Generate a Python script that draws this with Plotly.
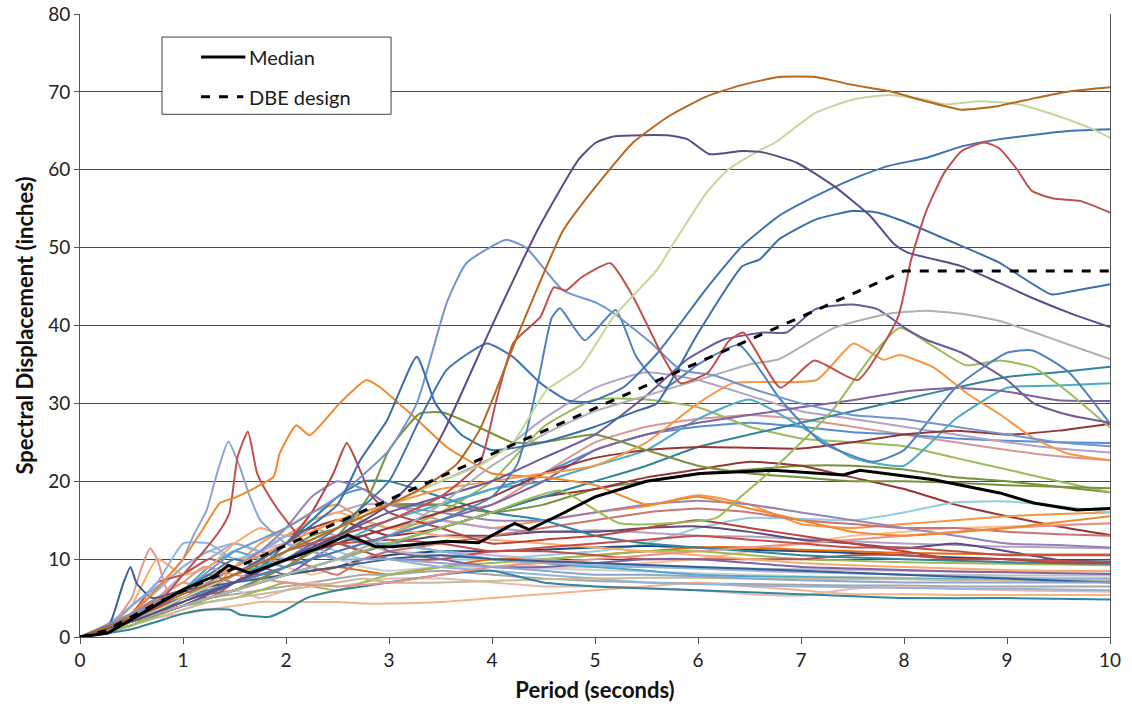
import plotly.graph_objects as go

# ---------------- data ----------------
# Prominent records (own period sampling)
T_ORANGE_BROWN = [0, 0.5, 1, 1.5, 2, 2.5, 3, 3.3, 3.65, 3.88, 4.27, 4.69, 5.01, 5.37, 5.72, 6.08, 6.43, 6.79, 7.14, 7.5, 7.85, 8.21, 8.56, 8.92, 9.27, 9.63, 10]
SD_ORANGE_BROWN = [0, 2.5, 5.5, 8, 11, 14, 17, 19, 22.1, 26.6, 39.4, 52.2, 57.9, 63.5, 66.9, 69.4, 70.9, 71.9, 71.9, 70.9, 70.1, 68.8, 67.7, 68.2, 69.2, 70.1, 70.6]

T_DARK_PURPLE = [0, 0.5, 1, 1.5, 2, 2.5, 3, 3.3, 3.54, 3.98, 4.44, 4.84, 5.01, 5.19, 5.72, 5.9, 6.11, 6.43, 6.64, 6.96, 7.32, 7.67, 7.9, 8.03, 8.56, 8.92, 9.27, 9.63, 10]
SD_DARK_PURPLE = [0, 2, 4.5, 7, 10, 13, 17, 21, 26.6, 39.4, 52.2, 61.3, 63.5, 64.3, 64.4, 63.9, 62, 62.4, 62.2, 60.9, 57.9, 54.1, 50.5, 49.4, 47.6, 45.5, 43.4, 41.5, 39.8]

T_PALE_GREEN = [0, 0.5, 1, 1.5, 2, 2.5, 3, 3.5, 3.88, 4.2, 4.53, 4.86, 5.18, 5.6, 5.76, 6.08, 6.29, 6.6, 6.75, 7.14, 7.5, 7.85, 8.21, 8.39, 8.74, 9.1, 9.45, 9.8, 10]
SD_PALE_GREEN = [0, 2, 5, 8, 11, 14, 17, 20, 22, 24.9, 31.7, 34.7, 41.1, 47.1, 50.5, 57, 60, 62.5, 63.5, 67.3, 69, 69.6, 69, 68.4, 68.8, 68.4, 67.1, 65.4, 64.1]

T_CORNFLOWER = [0, 0.5, 1, 1.3, 1.5, 2, 2.5, 3, 3.27, 3.56, 3.75, 4.14, 4.33, 4.69, 5.0, 5.18, 5.55, 5.83, 6.15, 6.5, 7, 7.5, 8, 8.5, 9, 9.5, 10]
SD_CORNFLOWER = [0, 3, 6, 9, 11, 14, 18, 24, 30, 42.9, 48, 51, 50, 44.5, 43, 41.6, 37.7, 34.3, 33.6, 32, 30, 28.5, 28, 27, 26, 25, 24.5]

T_BLUE_A = [0, 0.5, 1, 1.5, 2, 2.5, 3, 3.5, 4.0, 4.25, 4.45, 4.58, 4.66, 4.9, 5.2, 5.4, 5.67, 6, 6.4, 6.8, 7.2, 7.7, 8.0, 8.5, 9.0, 9.25, 9.6, 10]
SD_BLUE_A = [0, 2.5, 5, 7, 9, 11, 13, 15, 18, 22.3, 33, 41, 42.2, 38.1, 42, 36, 32, 35, 37.5, 30.5, 25, 22.5, 24, 32, 36.5, 36.8, 34, 27.4]

T_BLUE_65 = [0, 0.5, 1, 1.5, 2, 2.5, 3, 3.3, 3.56, 3.95, 4.2, 4.47, 4.73, 4.95, 5.28, 5.61, 6.08, 6.43, 6.79, 7.14, 7.5, 7.85, 8.21, 8.56, 8.92, 9.27, 9.63, 10]
SD_BLUE_65 = [0, 2, 4.5, 7, 10, 14, 20, 28, 34.3, 37.7, 36, 32.6, 30.4, 30.2, 32.1, 36.5, 44.7, 50.2, 54.1, 56.6, 58.8, 60.5, 61.5, 63, 63.9, 64.5, 65, 65.2]

T_STEEL_BLUE = [0, 0.5, 1, 1.5, 2, 2.5, 2.72, 2.98, 3.27, 3.45, 3.7, 4.0, 4.5, 5.0, 5.4, 5.6, 6.0, 6.43, 6.6, 6.79, 7.14, 7.5, 7.74, 8.03, 8.56, 8.92, 9.43, 9.63, 10]
SD_STEEL_BLUE = [0, 2, 5, 8, 12, 17, 22.7, 27.8, 36, 30, 26, 24, 25, 27, 29, 30, 39, 47.6, 48.5, 51.1, 53.6, 54.7, 54.5, 53.2, 50.2, 48.1, 44, 44.4, 45.3]

T_RED_MAIN = [0, 0.5, 1, 1.5, 2, 2.5, 3, 3.5, 3.88, 4.05, 4.21, 4.47, 4.6, 4.72, 4.87, 5.15, 5.37, 5.66, 5.83, 6.1, 6.3, 6.44, 6.8, 7.13, 7.55, 7.94, 8.07, 8.21, 8.39, 8.56, 8.78, 8.92, 9.1, 9.24, 9.45, 9.71, 10]
SD_RED_MAIN = [0, 2.5, 5, 8, 11, 13, 15, 18, 22.3, 30.8, 37.8, 41.1, 44.9, 44.5, 46.2, 48, 43.7, 36, 32.6, 34, 38, 39.1, 32, 35.5, 33, 41, 48.5, 54.5, 59.6, 62.4, 63.5, 62.8, 60, 57.3, 56.3, 56, 54.5]

T_GRAY_42 = [0, 0.5, 1, 1.5, 2, 2.5, 3, 3.5, 4, 4.5, 5, 5.5, 6, 6.5, 6.79, 7.32, 7.85, 8.21, 8.56, 8.92, 9.27, 9.63, 10]
SD_GRAY_42 = [0, 2, 4, 6, 8, 10, 13, 17, 22, 26, 29, 31, 33, 35, 35.7, 39.7, 41.5, 41.9, 41.5, 40.6, 39.1, 37.4, 35.7]

T_PURPLE_42 = [0, 0.5, 1, 1.5, 2, 2.5, 3, 3.5, 4, 4.5, 5, 5.5, 5.9, 6.25, 6.64, 6.86, 7.14, 7.5, 7.74, 8.03, 8.21, 8.56, 9, 9.26, 9.6, 10]
SD_PURPLE_42 = [0, 2, 4, 7, 10, 13, 16, 18, 20, 23, 26, 31, 35.7, 38.2, 39.1, 39.1, 42.1, 42.7, 42.1, 39.5, 38.2, 36.5, 33, 30, 28.5, 27.5]

T_GREEN_39 = [0, 0.5, 1, 1.5, 2, 2.5, 3, 3.5, 4, 4.66, 5.24, 6.18, 6.38, 6.79, 7.3, 7.68, 7.96, 8.3, 8.6, 8.93, 9.26, 9.58, 10]
SD_GREEN_39 = [0, 2, 4, 6, 8, 10, 12, 14, 16, 18.8, 14.6, 15.3, 17.6, 22.3, 29, 36, 39.7, 37.2, 34.9, 35.5, 34.6, 31.6, 26.9]

T_ORANGE_38 = [0, 0.5, 1, 1.5, 2, 2.5, 3, 3.5, 4, 4.5, 5, 5.5, 6.0, 6.34, 7.15, 7.51, 7.8, 7.96, 8.29, 8.61, 8.93, 9.25, 9.58, 10]
SD_ORANGE_38 = [0, 3, 6, 9, 12, 15, 17, 19, 20, 21, 22, 25, 30, 32.6, 33, 37.7, 35.6, 36.2, 34.6, 31.3, 28.6, 25.6, 23.6, 22.7]

T_ORANGE_33 = [0, 0.3, 0.5, 0.8, 1.0, 1.2, 1.36, 1.52, 1.72, 1.88, 1.94, 2.1, 2.23, 2.52, 2.78, 2.91, 3.24, 3.56, 3.82, 4.0, 4.5, 5.0, 5.5, 6.0, 6.5, 7.0, 7.5, 8.0, 9.0, 10]
SD_ORANGE_33 = [0, 1, 3, 7, 10, 14, 17.2, 18, 19.3, 20.6, 23.6, 27.2, 25.9, 30, 33, 32.1, 28.3, 24.4, 22.3, 21, 20.5, 19.5, 17, 18, 16.5, 15, 13.5, 13, 14, 15.5]

T_RED_26 = [0, 0.3, 0.5, 0.8, 1.0, 1.2, 1.36, 1.45, 1.53, 1.63, 1.72, 1.84, 2.0, 2.2, 2.5, 3, 3.5, 4, 4.5, 5, 5.5, 6, 6.5, 7, 7.5, 8, 8.5, 9, 9.5, 10]
SD_RED_26 = [0, 1, 3, 5, 8, 11, 13.7, 15.9, 23.1, 26.4, 21, 18, 15, 12, 12, 12.5, 12, 11, 11.5, 12, 12.5, 13, 12.5, 12, 11.5, 11.5, 11, 10.5, 10.5, 10.5]

T_LAVENDER_25 = [0, 0.3, 0.5, 0.8, 1.0, 1.1, 1.23, 1.33, 1.44, 1.55, 1.65, 1.75, 2.0, 2.25, 2.5, 3, 3.5, 4, 4.5, 5, 5.5, 6, 6.5, 7, 8, 9, 10]
SD_LAVENDER_25 = [0, 1.5, 4, 7, 10, 13, 16.3, 21, 25.1, 21.9, 18, 15, 12, 11, 10, 10, 9.5, 9, 8.5, 8, 8, 7.8, 7.5, 7.3, 7, 7, 7]

T_BLUE_9 = [0, 0.2, 0.3, 0.42, 0.49, 0.55, 0.7, 1, 1.5, 2, 2.5, 3, 3.5, 4, 5, 6, 7, 8, 9, 10]
SD_BLUE_9 = [0, 0.5, 2, 6.9, 9, 6.9, 5, 6, 7, 8, 9, 10, 10.5, 10, 9.5, 9, 8.5, 8, 7.5, 7]

T_SALMON_11 = [0, 0.3, 0.5, 0.6, 0.68, 0.75, 0.85, 1.0, 1.2, 1.5, 2, 2.5, 3, 3.5, 4, 5, 6, 7, 8, 9, 10]
SD_SALMON_11 = [0, 1.5, 5, 9, 11.4, 10, 6, 7, 9, 8, 7, 6.5, 7, 8, 9, 10, 11, 12, 13, 14, 14.6]

T_TEAL_LOW = [0, 0.5, 1.0, 1.2, 1.46, 1.55, 1.84, 2.0, 2.2, 2.5, 3, 3.5, 4, 4.5, 5, 6, 7, 8, 9, 10]
SD_TEAL_LOW = [0, 1, 3, 3.5, 3.5, 2.9, 2.6, 3.5, 5, 6, 7, 8, 8.5, 7, 6.5, 6, 5.5, 5, 5, 4.8]

T_RED_25 = [0, 0.5, 1, 1.5, 2, 2.25, 2.46, 2.59, 2.72, 2.82, 3, 3.5, 4, 4.5, 5, 5.5, 6, 6.5, 7, 7.5, 8, 8.5, 9, 9.5, 10]
SD_RED_25 = [0, 2, 5, 8, 12, 16, 21, 24.9, 21.4, 18.3, 16, 14, 12, 12.5, 13, 14, 15, 14, 13, 12, 11, 10, 10, 9.5, 9.5]

T_GREEN_29 = [0, 0.5, 1, 1.5, 2, 2.5, 2.8, 3.0, 3.3, 3.53, 3.86, 4.2, 4.5, 5, 5.5, 6, 6.5, 7, 7.5, 8, 8.5, 9, 9.5, 10]
SD_GREEN_29 = [0, 2, 4, 6, 9, 13, 18, 24, 28.7, 28.8, 27, 25, 25, 26, 24, 22, 21, 20.5, 20, 20, 19.8, 19.5, 19.3, 19.1]

# Records sampled on a common period grid
PERIOD_GRID = [0, 0.5, 1, 1.5, 2, 2.5, 3, 3.5, 4, 4.5, 5, 5.5, 6, 6.5, 7, 7.5, 8, 8.5, 9, 9.5, 10]
SD_GREEN_31 = [0, 1.5, 4, 6, 8, 10, 13, 16, 20, 27, 30.5, 30.5, 29.5, 27, 25.5, 25, 24.5, 23, 21.5, 20, 18.6]
SD_LAVENDER_34 = [0, 2, 5, 8, 11, 14, 17, 20, 23, 28, 32, 34, 33, 31, 29, 28, 27, 26, 25, 24.2, 23.7]
SD_TEAL_34 = [0, 2, 4, 6, 8, 10, 12, 14, 16, 18, 20, 22, 24.4, 26, 27.5, 29, 30.5, 32, 33.4, 34, 34.7]
SD_AQUA_32 = [0, 2, 5, 8, 10, 12, 15, 17, 19, 20, 22, 24, 28, 30.5, 27, 23, 22, 28, 32, 32.3, 32.6]
SD_PURPLE_30 = [0, 2, 4, 6, 9, 11, 13, 15, 17, 20, 24, 26, 27.5, 28.5, 29.5, 30.4, 31.5, 32, 31.5, 30.4, 30.3]
SD_REDBROWN_27 = [0, 2, 4, 7, 10, 12, 14, 16, 18, 21, 23, 24, 24.4, 24.3, 24.2, 25, 26, 26.5, 26, 26.5, 27.4]

# Records on a finer common grid
PERIOD_FINE = [0, 0.25, 0.5, 0.75, 1, 1.25, 1.5, 1.75, 2, 2.25, 2.5, 2.75, 3, 3.5, 4, 4.5, 5, 5.5, 6, 6.5, 7, 7.5, 8, 8.5, 9, 9.5, 10]
SD_PINKBROWN_23 = [0, 0.8, 2.5, 5, 6, 8, 10, 9, 11, 14, 13, 15, 14, 16, 17, 21, 25, 27, 28, 28.5, 28, 27, 26, 25, 24, 23.2, 22.7]
SD_BLUE_25 = [0, 1, 3, 4, 6, 8, 7, 9, 12, 15, 18, 19, 17, 17, 19, 21, 24, 26, 27, 27.5, 27, 26.3, 26, 25.5, 25.2, 25, 24.9]
SD_OLIVE_19 = [0, 0.6, 2, 3.5, 5, 6, 7, 9, 11, 13, 14, 16, 17, 17, 16, 17, 19, 20, 21, 21.5, 22, 22, 21.5, 20.5, 20, 19.3, 18.6]
SD_DARKRED_13 = [0, 1, 2.5, 4, 6, 7, 9, 11, 13, 14, 15, 14, 13, 14, 16, 18, 19, 20.5, 21.5, 22.5, 22, 20.5, 19, 17, 15.5, 14.2, 13.1]
SD_ORANGE_16 = [0, 1, 3, 5, 7, 6, 9, 12, 14, 16, 17, 15, 14, 15, 14, 15, 16, 16.8, 18.2, 17, 14.5, 14, 14.5, 15, 15.5, 15.8, 16]
SD_PEACH_15 = [0, 0.7, 2, 3.5, 5, 6, 8, 10, 9, 8, 9, 10, 11, 10.5, 10, 9, 9, 9.5, 10, 11, 12, 13, 13.5, 14, 14.2, 14.4, 14.6]
SD_SKY_16 = [0, 1, 3, 6, 9, 11, 10, 9, 10, 12, 11, 10, 11, 10, 10, 10.5, 11, 12, 14, 15.3, 15.2, 15, 16, 17.3, 17.4, 16.8, 16]
SD_LAVENDER_11 = [0, 1, 3, 5, 8, 10, 12, 11, 13, 15, 16, 17, 17, 15, 14, 13.5, 13.7, 13.4, 13, 12.9, 12.6, 12.3, 12, 11.8, 11.6, 11.5, 11.4]
SD_DKPURPLE_10 = [0, 0.8, 2, 3, 5, 6, 7, 8, 9, 11, 12, 11, 12, 13, 13, 13.5, 13.5, 14, 14.2, 13.5, 12.5, 12, 11.4, 12, 11, 9.9, 9.5]
SD_NAVY_10 = [0, 0.6, 1.5, 3, 4, 5, 6, 7, 8, 8.5, 9, 10, 10.5, 11, 11, 11.2, 11.5, 11.7, 11.5, 11.2, 11, 10.8, 10.5, 10.2, 10, 9.8, 9.7]
SD_ORANGE_11 = [0, 0.7, 2, 4, 5, 5.5, 6, 7, 8, 8.5, 9, 8.5, 8, 9, 10, 10, 10.5, 11, 11.5, 11.5, 11.2, 11, 10.8, 10.7, 10.6, 10.6, 10.6]
SD_LILAC_8 = [0, 1, 3, 5, 6, 8, 9, 11, 12, 11, 10, 11, 12, 11, 10.5, 10, 9.5, 9.2, 9, 8.8, 8.7, 8.6, 8.5, 8.4, 8.4, 8.4, 8.4]
SD_GRAY_8 = [0, 1.2, 3, 5, 6, 7, 9, 11, 10, 12, 13, 12, 11, 10.5, 10, 9.5, 9, 9, 8.8, 8.5, 8.3, 8.2, 8, 8, 7.9, 7.9, 7.9]
SD_LTGRAY_7 = [0, 0.9, 2.5, 4, 5, 6, 8, 9, 10, 11, 10, 9, 8.5, 9, 9, 8.8, 8.6, 8.4, 8.2, 8, 7.8, 7.7, 7.6, 7.5, 7.5, 7.5, 7.5]
SD_GRAY_6 = [0, 0.7, 2, 3, 4, 5, 5.5, 6, 6.5, 7, 7.5, 8, 8, 8.5, 8, 7.5, 7.2, 7, 6.9, 6.8, 6.7, 6.6, 6.6, 6.5, 6.5, 6.5, 6.5]
SD_PINK_6 = [0, 1, 2, 3, 4, 5, 6, 5, 6, 7, 6.5, 7, 7.5, 7.5, 7, 6.5, 6.5, 6.3, 6, 5.5, 5.3, 6.2, 6.5, 6.2, 6, 5.9, 5.8]
SD_PEACH_5 = [0, 0.5, 1.5, 2.5, 3, 3.5, 4, 4.5, 4.5, 4.5, 4.5, 4.3, 4.3, 4.5, 5, 5.5, 6, 6.5, 7, 6.5, 6, 5.5, 5.5, 5.4, 5.4, 5.4, 5.4]
SD_ROSE_13 = [0, 1, 3, 5, 6, 8, 7, 9, 10, 9, 8, 10, 11, 12, 13, 14, 15, 16, 16.5, 16, 15, 14.5, 14, 14, 13.5, 13.2, 13]
SD_GREEN_9 = [0, 0.5, 1.5, 3, 4, 4.5, 5, 6, 7, 6.5, 6, 7, 8, 9, 9.5, 10, 10.5, 11, 11, 10.5, 10, 9.8, 9.6, 9.5, 9.4, 9.3, 9.2]
SD_AQUA_7 = [0, 1, 2.5, 4, 6, 9, 11, 10, 9, 11, 13, 12, 12, 11, 10, 9.5, 9, 8.5, 8, 7.8, 7.7, 7.6, 7.5, 7.4, 7.3, 7.2, 7.1]
SD_PALEBLUE_6 = [0, 1, 3, 6, 9, 11, 12, 11, 10, 11, 12, 11, 10, 9, 8.5, 8, 7.5, 7, 6.8, 6.6, 6.5, 6.4, 6.3, 6.2, 6.2, 6.1, 6]
SD_TAN_7 = [0, 0.5, 1.5, 2.5, 3.5, 4.5, 5, 5.5, 6, 6.5, 7, 7.5, 7, 7, 7.2, 7.4, 7.5, 7.6, 7.6, 7.5, 7.5, 7.4, 7.4, 7.3, 7.3, 7.3, 7.3]
SD_RED_10 = [0, 1, 3, 7, 8, 10, 9, 8, 9, 11, 12, 11, 10, 10, 11, 11, 10.5, 10, 10, 10, 10, 10.5, 10.5, 10, 10, 9.8, 9.6]
SD_PURPLE_8 = [0, 1, 2.5, 4, 6, 5, 7, 9, 8, 10, 12, 13, 11, 10, 9, 9, 9.5, 10, 10, 9.5, 9, 8.8, 8.6, 8.4, 8.3, 8.2, 8.1]
SD_ORANGE_9 = [0, 1, 4, 10, 8, 9, 12, 14, 13, 15, 16, 15, 14, 13, 12.5, 12, 11.5, 11, 10.5, 10, 9.5, 9.2, 9, 8.8, 8.6, 8.5, 8.5]
SD_LTBLUE_8 = [0, 1.5, 4, 7, 12, 12, 10, 11, 13, 12, 10, 11, 12, 11, 10, 9.5, 9.2, 9, 8.8, 8.6, 8.4, 8.2, 8, 7.8, 7.6, 7.5, 7.5]
SD_TEAL_9 = [0, 1, 2, 4, 6, 8, 10, 9, 12, 15, 18, 20, 20, 18, 16, 15, 13, 12, 11.5, 11, 10.5, 10.2, 10, 9.8, 9.6, 9.5, 9.4]
SD_PURPLE_12 = [0, 1, 2, 4, 5, 7, 9, 11, 14, 18, 20, 19, 17, 16, 15, 15, 16, 17, 17.5, 17, 16, 15, 14, 13, 12, 11.8, 11.5]

T_MEDIAN = [0, 0.27, 0.61, 1.0, 1.3, 1.44, 1.65, 2.0, 2.35, 2.6, 2.87, 3.04, 3.56, 3.87, 4.22, 4.36, 4.66, 5.0, 5.5, 6.02, 6.73, 7.41, 7.57, 8.29, 8.93, 9.26, 9.68, 10]
SD_MEDIAN = [0, 0.5, 3.1, 6.1, 7.8, 9.2, 8.2, 9.9, 11.6, 13.1, 11.6, 11.6, 12.3, 12.1, 14.6, 13.8, 15.7, 18, 20, 21, 21.4, 20.8, 21.4, 20.2, 18.5, 17.2, 16.3, 16.5]

T_DBE = [0, 0.25, 0.5, 0.75, 1, 2, 3, 4, 5, 6, 7, 8, 10]
SD_DBE = [0, 0.8, 2.6, 4.4, 5.9, 11.75, 17.6, 23.5, 29.4, 35.25, 41.1, 47, 47]

# ---------------- traces ----------------
records = [
    (PERIOD_FINE, SD_PINKBROWN_23, "#D99694"),
    (PERIOD_FINE, SD_BLUE_25, "#558ED5"),
    (PERIOD_FINE, SD_OLIVE_19, "#76923C"),
    (PERIOD_FINE, SD_DARKRED_13, "#953735"),
    (PERIOD_FINE, SD_ORANGE_16, "#F79646"),
    (PERIOD_FINE, SD_PEACH_15, "#FAC090"),
    (PERIOD_FINE, SD_SKY_16, "#93CDDD"),
    (PERIOD_FINE, SD_LAVENDER_11, "#B3A2C7"),
    (PERIOD_FINE, SD_DKPURPLE_10, "#604A7B"),
    (PERIOD_FINE, SD_NAVY_10, "#1F497D"),
    (PERIOD_FINE, SD_ORANGE_11, "#E46C0A"),
    (PERIOD_FINE, SD_LILAC_8, "#BFB5D6"),
    (PERIOD_FINE, SD_GRAY_8, "#BFBFBF"),
    (PERIOD_FINE, SD_LTGRAY_7, "#CFCFCF"),
    (PERIOD_FINE, SD_GRAY_6, "#A6A6A6"),
    (PERIOD_FINE, SD_PINK_6, "#E6B9B8"),
    (PERIOD_FINE, SD_PEACH_5, "#F2B48C"),
    (PERIOD_FINE, SD_ROSE_13, "#CD7371"),
    (PERIOD_FINE, SD_GREEN_9, "#9BBB59"),
    (PERIOD_FINE, SD_AQUA_7, "#4BACC6"),
    (PERIOD_FINE, SD_PALEBLUE_6, "#95B3D7"),
    (PERIOD_FINE, SD_TAN_7, "#C4BD97"),
    (PERIOD_FINE, SD_RED_10, "#C0504D"),
    (PERIOD_FINE, SD_PURPLE_8, "#8064A2"),
    (PERIOD_FINE, SD_ORANGE_9, "#F9AB6B"),
    (PERIOD_FINE, SD_LTBLUE_8, "#8DB4E2"),
    (PERIOD_FINE, SD_TEAL_9, "#31859C"),
    (PERIOD_FINE, SD_PURPLE_12, "#9983B5"),
    (PERIOD_GRID, SD_GREEN_31, "#9BBB59"),
    (PERIOD_GRID, SD_LAVENDER_34, "#B3A2C7"),
    (PERIOD_GRID, SD_TEAL_34, "#31859C"),
    (PERIOD_GRID, SD_AQUA_32, "#4BACC6"),
    (PERIOD_GRID, SD_PURPLE_30, "#8064A2"),
    (PERIOD_GRID, SD_REDBROWN_27, "#943634"),
    (T_TEAL_LOW, SD_TEAL_LOW, "#31859C"),
    (T_SALMON_11, SD_SALMON_11, "#E6958A"),
    (T_BLUE_9, SD_BLUE_9, "#376092"),
    (T_LAVENDER_25, SD_LAVENDER_25, "#8EA4D2"),
    (T_RED_26, SD_RED_26, "#C0504D"),
    (T_RED_25, SD_RED_25, "#B9443F"),
    (T_ORANGE_33, SD_ORANGE_33, "#F0892E"),
    (T_GREEN_29, SD_GREEN_29, "#77933C"),
    (T_ORANGE_38, SD_ORANGE_38, "#F79646"),
    (T_GREEN_39, SD_GREEN_39, "#9BBB59"),
    (T_PURPLE_42, SD_PURPLE_42, "#6E5A9A"),
    (T_GRAY_42, SD_GRAY_42, "#B0B0B0"),
    (T_BLUE_A, SD_BLUE_A, "#4F81BD"),
    (T_CORNFLOWER, SD_CORNFLOWER, "#7195CE"),
    (T_STEEL_BLUE, SD_STEEL_BLUE, "#3C6EA8"),
    (T_BLUE_65, SD_BLUE_65, "#4173B2"),
    (T_RED_MAIN, SD_RED_MAIN, "#C0504D"),
    (T_PALE_GREEN, SD_PALE_GREEN, "#C4D79B"),
    (T_DARK_PURPLE, SD_DARK_PURPLE, "#5A4C86"),
    (T_ORANGE_BROWN, SD_ORANGE_BROWN, "#B9671F"),
]

fig = go.Figure()
for xs, ys, col in records:
    fig.add_trace(go.Scatter(
        x=xs, y=ys, mode="lines", showlegend=False, hoverinfo="skip",
        line=dict(color=col, width=2, shape="spline", smoothing=0.5),
    ))

fig.add_trace(go.Scatter(
    x=T_MEDIAN, y=SD_MEDIAN, mode="lines", name="Median", showlegend=False,
    line=dict(color="black", width=3, shape="linear"),
))
fig.add_trace(go.Scatter(
    x=T_DBE, y=SD_DBE, mode="lines", name="DBE design", showlegend=False,
    line=dict(color="black", width=3, dash="dash", shape="linear"),
))

FONT = "Lato, 'Noto Sans', sans-serif"

# legend box drawn in paper coordinates (plot area: x 80..1110, y 14..637)
shapes = [
    dict(type="rect", xref="paper", yref="paper", x0=0.0796, x1=0.3020, y0=0.839, y1=0.963,
         line=dict(color="#404040", width=1), fillcolor="white", layer="above"),
    dict(type="line", xref="paper", yref="paper", x0=0.1175, x1=0.1605, y0=0.931, y1=0.931,
         line=dict(color="black", width=3), layer="above"),
    dict(type="line", xref="paper", yref="paper", x0=0.1175, x1=0.1585, y0=0.867, y1=0.867,
         line=dict(color="black", width=3, dash="dash"), layer="above"),
]
annotations = [
    dict(xref="paper", yref="paper", x=0.1620, y=0.931, text="Median", showarrow=False,
         xanchor="left", yanchor="middle", font=dict(family=FONT, size=20, color="#1a1a1a")),
    dict(xref="paper", yref="paper", x=0.1620, y=0.867, text="DBE design", showarrow=False,
         xanchor="left", yanchor="middle", font=dict(family=FONT, size=20, color="#1a1a1a")),
]

fig.update_layout(
    width=1132, height=715,
    margin=dict(l=80, r=22, t=14, b=78),
    paper_bgcolor="white", plot_bgcolor="white",
    font=dict(family=FONT, size=19, color="#222222"),
    showlegend=False,
    shapes=shapes, annotations=annotations,
    xaxis=dict(
        range=[0, 10], tickmode="array", tickvals=list(range(0, 11)),
        ticks="outside", ticklen=6, tickcolor="#555555", automargin=False,
        showline=True, linecolor="#555555", linewidth=1, showgrid=False, zeroline=False,
        title=dict(text="<b>Period (seconds)</b>", font=dict(family=FONT, size=22, color="#111111"), standoff=12),
        tickfont=dict(family=FONT, size=19, color="#222222"),
    ),
    yaxis=dict(
        range=[0, 80], tickmode="array", tickvals=list(range(0, 81, 10)),
        ticks="outside", ticklen=5, tickcolor="#555555", automargin=False,
        showline=True, linecolor="#555555", linewidth=1, mirror=True,
        showgrid=True, gridcolor="#4a4a4a", gridwidth=1, zeroline=False,
        title=dict(text="<b>Spectral Displacement (inches)</b>", font=dict(family=FONT, size=22, color="#111111"), standoff=8),
        tickfont=dict(family=FONT, size=19, color="#222222"),
    ),
)

fig.write_html("out.html")
